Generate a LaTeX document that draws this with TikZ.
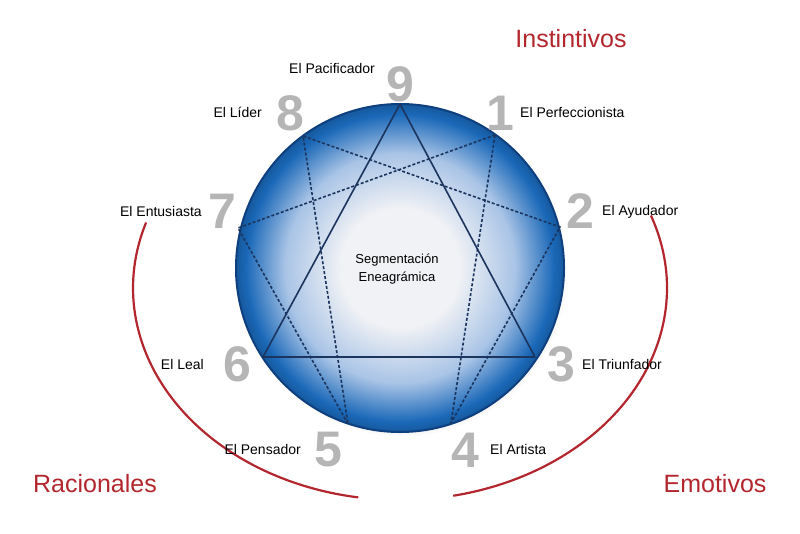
\documentclass[tikz,border=0pt]{standalone}
\usepackage{fontspec}
\setmainfont{Liberation Sans}
\usetikzlibrary{shadows}
\definecolor{linea}{HTML}{1B355E}
\definecolor{borde}{HTML}{0E3F7E}
\definecolor{rojo}{HTML}{B3262E}
\definecolor{numgris}{HTML}{B5B5B5}
\definecolor{centro}{HTML}{F1F2F5}
\definecolor{medio}{HTML}{A9C4E6}
\definecolor{azul}{HTML}{1A68B8}
\pgfdeclareradialshading{eneagrama}{\pgfpoint{0bp}{0bp}}{color(0bp)=(centro); color(9bp)=(centro); color(17.5bp)=(medio); color(23.5bp)=(azul); color(25bp)=(azul!85!black); color(50bp)=(azul!85!black)}
\begin{document}
\begin{tikzpicture}[x=1pt, y=-1pt,
    num/.style={inner sep=0pt, text=numgris, font=\fontsize{50}{50}\selectfont\bfseries},
    etiq/.style={inner sep=0pt, font=\fontsize{14}{16}\selectfont},
    grupo/.style={inner sep=0pt, text=rojo, font=\fontsize{25}{27}\selectfont},
    solida/.style={draw=linea, line width=1.6pt, line join=round},
    punteada/.style={solida, dash pattern=on 3pt off 2pt},
    arco/.style={draw=rojo, line width=2.2pt}]
      \useasboundingbox (0,0) rectangle (800,533);

      \draw[arco] (146.1,222.5) arc[start angle=162, end angle=261, x radius=267pt, y radius=212pt];
      \draw[arco] (650.9,215.5) arc[start angle=20, end angle=-78.5, x radius=267pt, y radius=212pt];

      \coordinate (C) at (400,268);
      \shadedraw[shading=eneagrama, draw=borde, line width=2pt,
        circular drop shadow={shadow xshift=2pt, shadow yshift=-3pt, opacity=0.35, shadow scale=1.01}]
        (C) circle[radius=164pt];

      \coordinate (P9) at (400,104);
      \coordinate (P1) at (495,135);
      \coordinate (P2) at (560,227);
      \coordinate (P3) at (535,357);
      \coordinate (P4) at (451,423);
      \coordinate (P5) at (348,424);
      \coordinate (P6) at (263,357);
      \coordinate (P7) at (238,228);
      \coordinate (P8) at (303,136);

      \draw[solida] (P9) -- (P3) -- (P6) -- cycle;
      \draw[punteada] (P1) -- (P4) -- (P2) -- (P8) -- (P5) -- (P7) -- cycle;

      \node[num] (N9) at (400,84) {9};
      \node[num] (N1) at (500,113) {1};
      \node[num] (N2) at (580,211) {2};
      \node[num] (N3) at (561,364) {3};
      \node[num] (N4) at (465,450) {4};
      \node[num] (N5) at (328,450) {5};
      \node[num] (N6) at (237,364) {6};
      \node[num] (N7) at (222,211) {7};
      \node[num] (N8) at (290,113) {8};

      \node[etiq, anchor=base] (L9) at (332,73) {El Pacificador};
      \node[etiq, anchor=base west] (L1) at (520,117) {El Perfeccionista};
      \node[etiq, anchor=base west] (L2) at (602,215) {El Ayudador};
      \node[etiq, anchor=base west] (L3) at (582,369) {El Triunfador};
      \node[etiq, anchor=base west] (L4) at (490,454) {El Artista};
      \node[etiq, anchor=base east] (L5) at (301,454) {El Pensador};
      \node[etiq, anchor=base east] (L6) at (204,369) {El Leal};
      \node[etiq, anchor=base east] (L7) at (202,216) {El Entusiasta};
      \node[etiq, anchor=base east] (L8) at (262,117) {El Líder};

      \node[inner sep=0pt, align=center, font=\fontsize{13}{18}\selectfont] (T) at (397,269) {Segmentación\\Eneagrámica};

      \node[grupo, anchor=base] (G1) at (571,47) {Instintivos};
      \node[grupo, anchor=base] (G2) at (95,492) {Racionales};
      \node[grupo, anchor=base] (G3) at (715,492) {Emotivos};
    \end{tikzpicture}
\end{document}
